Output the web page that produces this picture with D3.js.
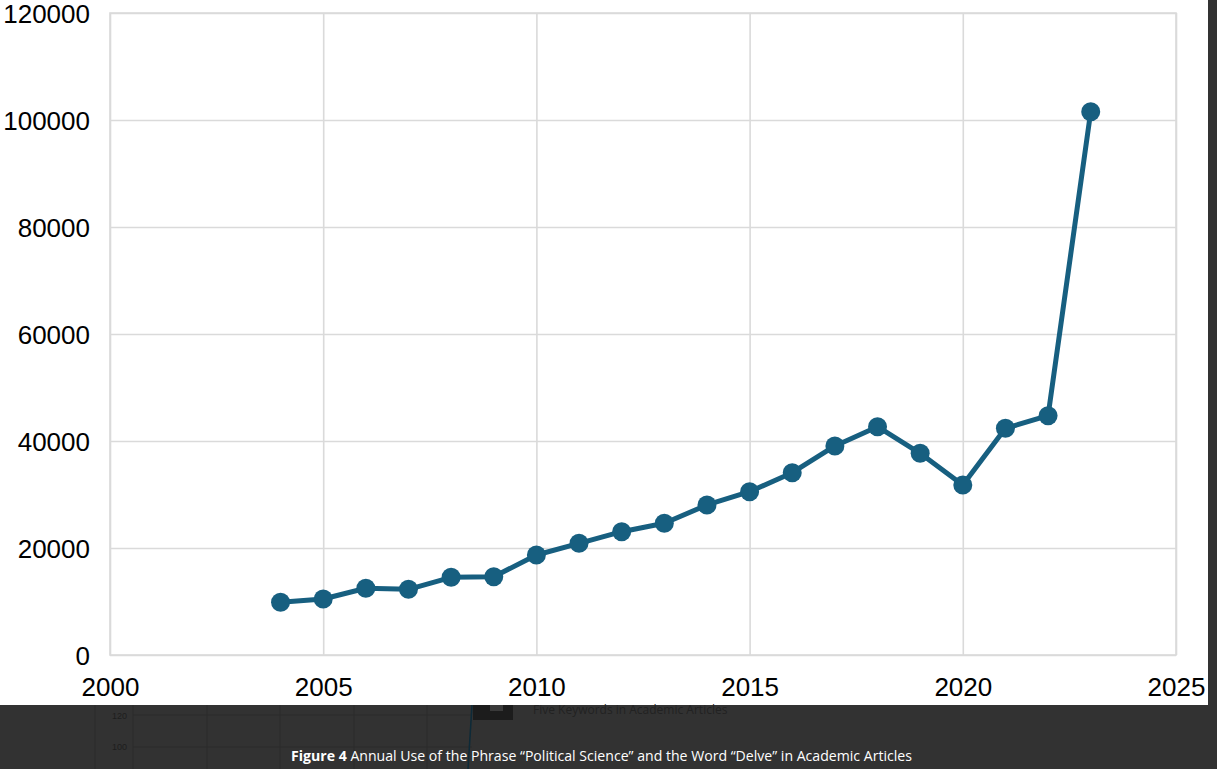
<!DOCTYPE html>
<html>
<head>
<meta charset="utf-8">
<script src="https://cdn.jsdelivr.net/npm/d3@7"></script>
<style>
  html, body { margin: 0; padding: 0; background: #ffffff; }
  svg { display: block; }
</style>
</head>
<body>
<svg id="chart" width="1217" height="769"></svg>
<script>
// ---- data ----
const years = [2004, 2005, 2006, 2007, 2008, 2009, 2010, 2011, 2012, 2013,
               2014, 2015, 2016, 2017, 2018, 2019, 2020, 2021, 2022, 2023];
const counts = [9850, 10470, 12470, 12280, 14520, 14640, 18690, 20880, 23050, 24620,
                28040, 30520, 34070, 39070, 42670, 37700, 31780, 42370, 44730, 101550];
const xTicks = [2000, 2005, 2010, 2015, 2020, 2025];
const yTicks = [0, 20000, 40000, 60000, 80000, 100000, 120000];
const caption = ["Figure 4", " Annual Use of the Phrase “Political Science” and the Word “Delve” in Academic Articles"];
const bgTitle = "Five Keywords in Academic Articles";
const bgTicks = ["120", "100"];

// ---- layout ----
const W = 1217, H = 769;
const m = { left: 110, right: 1176, top: 13, bottom: 655 };
const svg = d3.select("#chart");

const x = d3.scaleLinear().domain([2000, 2025]).range([m.left, m.right]);
const y = d3.scaleLinear().domain([0, 120000]).range([m.bottom, m.top]);

const gridColor = "#dadada";
const lineColor = "#175f80";

// gridlines
svg.append("g")
  .attr("transform", `translate(0,${m.bottom})`)
  .call(d3.axisBottom(x).tickValues(xTicks).tickSize(-(m.bottom - m.top)).tickFormat(""))
  .call(g => g.select(".domain").remove())
  .call(g => g.selectAll("line").attr("stroke", gridColor).attr("stroke-width", 1.6));

svg.append("g")
  .attr("transform", `translate(${m.left},0)`)
  .call(d3.axisLeft(y).tickValues(yTicks).tickSize(-(m.right - m.left)).tickFormat(""))
  .call(g => g.select(".domain").remove())
  .call(g => g.selectAll("line").attr("stroke", gridColor).attr("stroke-width", 1.6));

// border
svg.append("rect")
  .attr("x", m.left).attr("y", m.top)
  .attr("width", m.right - m.left).attr("height", m.bottom - m.top)
  .attr("fill", "none").attr("stroke", gridColor).attr("stroke-width", 1.6);

// y tick labels
svg.append("g")
  .attr("transform", `translate(${m.left},0)`)
  .call(d3.axisLeft(y).tickValues(yTicks).tickSize(0).tickPadding(20).tickFormat(d3.format("d")))
  .call(g => g.select(".domain").remove())
  .call(g => g.selectAll("text")
    .attr("dy", "0.38em")
    .attr("font-family", "'Liberation Sans', Arial, Helvetica, sans-serif")
    .attr("font-size", 26).attr("fill", "#000"));

// x tick labels
svg.append("g")
  .attr("transform", `translate(0,${m.bottom})`)
  .call(d3.axisBottom(x).tickValues(xTicks).tickSize(0).tickPadding(23).tickFormat(d3.format("d")))
  .call(g => g.select(".domain").remove())
  .call(g => g.selectAll("text")
    .attr("font-family", "'Liberation Sans', Arial, Helvetica, sans-serif")
    .attr("font-size", 26).attr("fill", "#000"));

// line + markers
const data = years.map((yr, i) => ({ yr, v: counts[i] }));
svg.append("path")
  .datum(data)
  .attr("fill", "none")
  .attr("stroke", lineColor)
  .attr("stroke-width", 5)
  .attr("stroke-linejoin", "round")
  .attr("d", d3.line().x(d => x(d.yr)).y(d => y(d.v)));

svg.append("g").selectAll("circle")
  .data(data).join("circle")
  .attr("cx", d => x(d.yr)).attr("cy", d => y(d.v))
  .attr("r", 9.5).attr("fill", lineColor);

// ---- dark page band (screenshot surroundings) ----
const band = svg.append("g");
band.append("rect").attr("x", 0).attr("y", 705).attr("width", W).attr("height", H - 705).attr("fill", "#323232");
band.append("rect").attr("x", 1208).attr("y", 0).attr("width", W - 1208).attr("height", H).attr("fill", "#323232");

// faint background chart grid
const bgV = [95, 133, 207, 280, 354, 427];
band.selectAll("line.bv").data(bgV).join("line")
  .attr("x1", d => d).attr("x2", d => d).attr("y1", 705).attr("y2", H)
  .attr("stroke", "#2b2b2b").attr("stroke-width", 1);
band.selectAll("line.bh").data([715, 747]).join("line")
  .attr("x1", 133).attr("x2", 472).attr("y1", d => d).attr("y2", d => d)
  .attr("stroke", "#2b2b2b").attr("stroke-width", 1);
band.selectAll("text.bt").data(bgTicks).join("text")
  .attr("x", 127).attr("y", (d, i) => [719, 750][i])
  .attr("text-anchor", "end")
  .attr("font-family", "'Liberation Sans', Arial, sans-serif")
  .attr("font-size", 9).attr("fill", "#1e1e1e").text(d => d);
band.append("line").attr("x1", 472).attr("y1", 705).attr("x2", 468).attr("y2", H)
  .attr("stroke", "#0d2a38").attr("stroke-width", 1.5);
band.append("rect").attr("x", 473).attr("y", 705).attr("width", 40).attr("height", 15).attr("fill", "#1c1c1c");
band.append("rect").attr("x", 490).attr("y", 705).attr("width", 13).attr("height", 6).attr("fill", "#3a3a3a");
band.append("text").attr("x", 533).attr("y", 714)
  .attr("font-family", "'Open Sans', 'Noto Sans', sans-serif")
  .attr("font-size", 12).attr("fill", "#222").text(bgTitle);

// caption
const cap = band.append("text").attr("x", 291).attr("y", 761)
  .attr("font-family", "'Open Sans', 'Noto Sans', sans-serif")
  .attr("font-size", 14.1).attr("fill", "#ffffff");
cap.append("tspan").attr("font-weight", "bold").text(caption[0]);
cap.append("tspan").text(caption[1]);
</script>
</body>
</html>
